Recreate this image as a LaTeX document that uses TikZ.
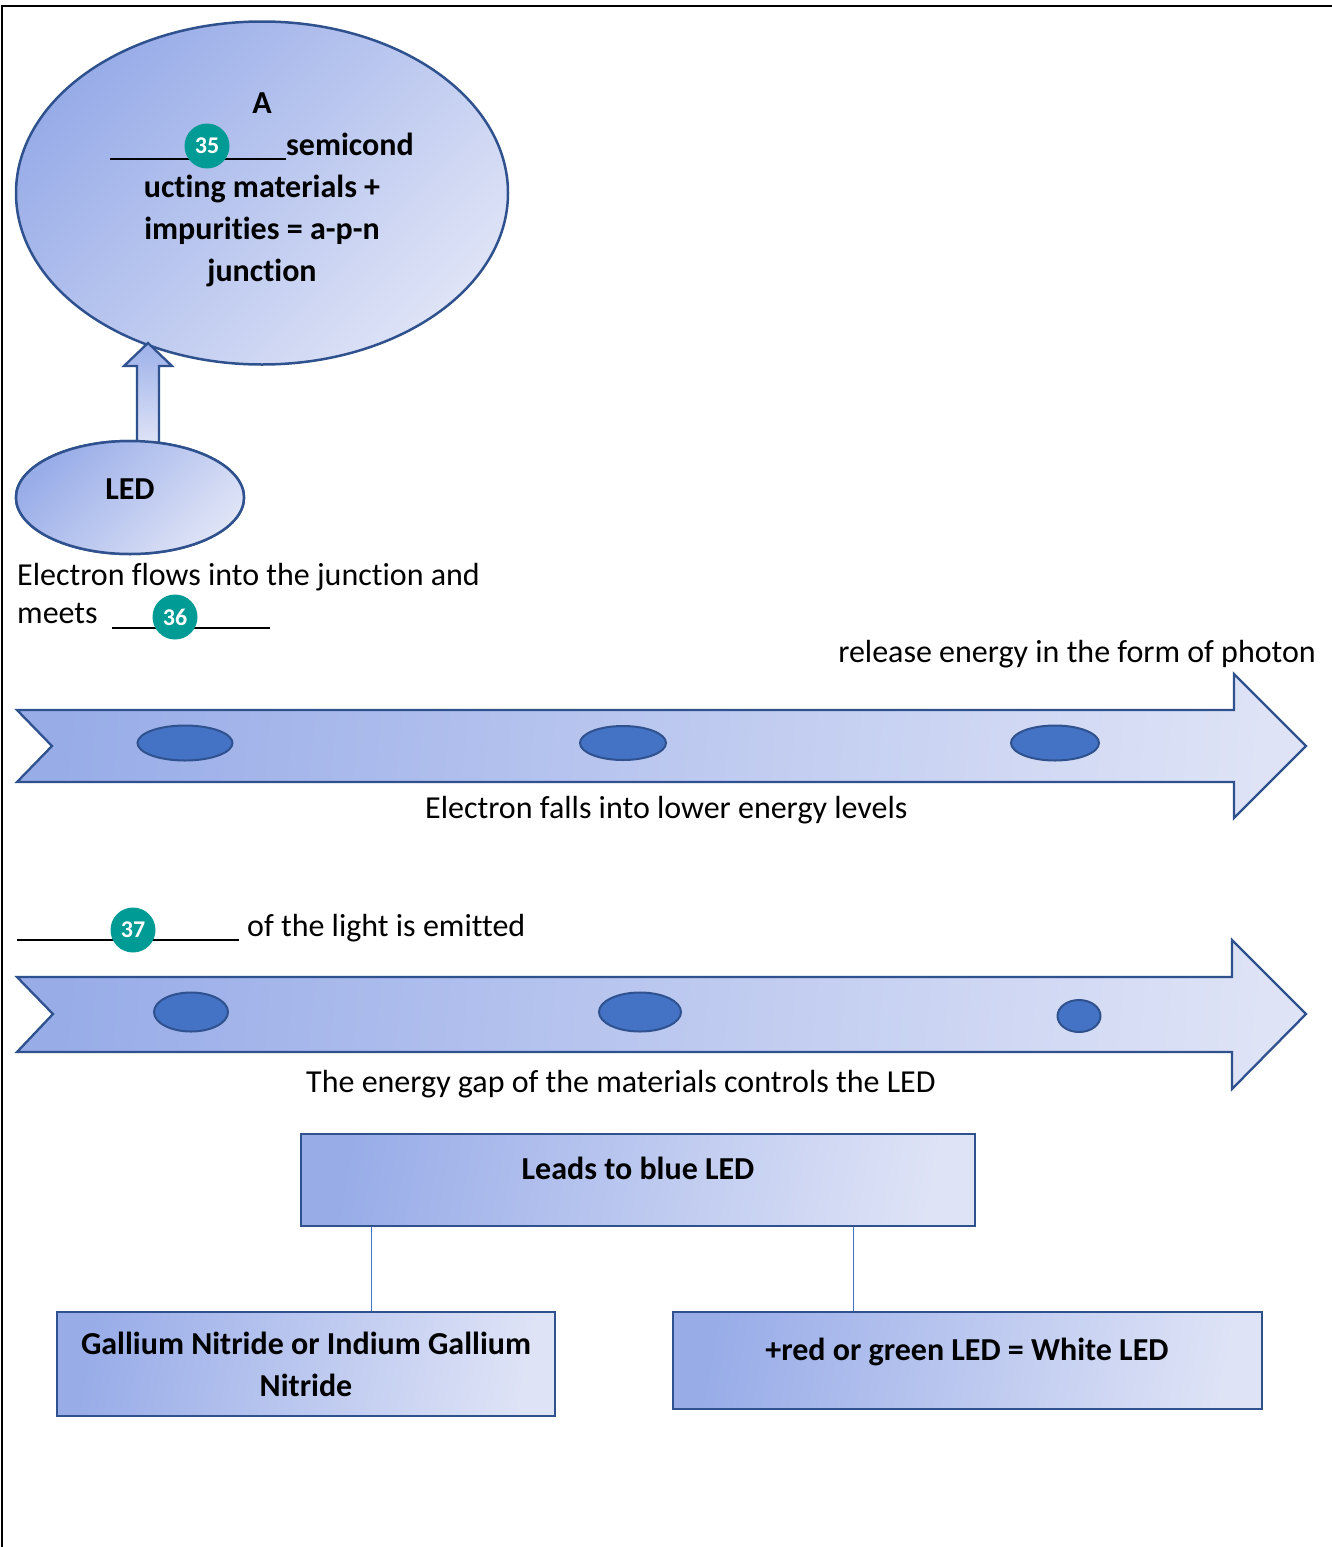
\documentclass[tikz,border=0pt]{standalone}
\usepackage{fontspec}
\setmainfont[Ligatures=NoCommon]{Carlito}
\usetikzlibrary{shapes.geometric,calc}
\definecolor{edge}{RGB}{47,82,143}
\definecolor{gdark}{RGB}{152,172,232}
\definecolor{glight}{RGB}{222,227,246}
\definecolor{dotblue}{RGB}{68,114,196}
\definecolor{badgeteal}{RGB}{0,155,148}
\begin{document}
\begin{tikzpicture}[x=1pt,y=-1pt,
  bubble/.style={ellipse, draw=edge, line width=2.5pt, left color=gdark, right color=glight, shading angle=45, inner sep=0pt},
  badge/.style={circle, fill=badgeteal, text=white, font=\fontsize{24}{24}\selectfont\bfseries, minimum size=45pt, inner sep=0pt},
  dotell/.style={ellipse, draw=edge, fill=dotblue, line width=2pt, inner sep=0pt},
  txt/.style={font=\fontsize{32}{42}\selectfont, inner sep=0pt},
  btxt/.style={font=\fontsize{32}{42}\selectfont\bfseries, inner sep=0pt},
  boxst/.style={rectangle, draw=edge, line width=2.6pt, left color=gdark, right color=glight, shading angle=80, inner sep=0pt},
  band/.style={draw=edge, line width=2.3pt, left color=gdark, right color=glight, shading angle=85},
  link/.style={draw=dotblue, line width=1.2pt},
  blank/.style={draw=black, line width=2pt}
]
\useasboundingbox (0,0) rectangle (1332,1547);
\fill[white] (0,0) rectangle (1332,1547);
% frame
\draw[line width=2pt] (2,1547) -- (2,6) -- (1332,6);

% big ellipse
\node[bubble, minimum width=492pt, minimum height=343pt] (core) at (262,193) {};
\node[btxt, anchor=base] (coreA) at (262,113) {A};
\node[btxt, anchor=base] (coreB) at (262,155) {\rule[-5pt]{176pt}{2.5pt}semicond};
\node[btxt, anchor=base] (coreC) at (262,197) {ucting materials +};
\node[btxt, anchor=base] (coreD) at (262,239) {impurities = a-p-n};
\node[btxt, anchor=base] (coreE) at (262,281) {junction};
\node[badge] (b35) at (207,146) {35};

% LED ellipse and up arrow
\node[bubble, minimum width=228pt, minimum height=113pt] (led) at (130,497.5) {};
\coordinate (upfoot) at ($(led.north)+(18,3)$);
\coordinate (uptip) at (148,343);
\draw[edge, line width=2.3pt, top color=gdark!95!white, bottom color=glight, shading angle=0]
  ($(upfoot)+(-11,0)$) -- ($(uptip)+(-11,23)$) -- ($(uptip)+(-24,23)$) -- (uptip)
  -- ($(uptip)+(24,23)$) -- ($(uptip)+(11,23)$) -- ($(upfoot)+(11,0)$) -- cycle;
\node[bubble, minimum width=228pt, minimum height=113pt] (led2) at (130,497.5) {};
\node[btxt, anchor=base] (ledt) at (130,499) {LED};

% text block 36
\node[txt, anchor=base west] (flow) at (17,585) {Electron flows into the junction and};
\node[txt, anchor=base west] (meets) at (17,623) {meets};
\coordinate (u36a) at (112,628);
\coordinate (u36b) at (270,628);
\draw[blank] (u36a) -- (u36b);
\node[badge] (b36) at (175,617) {36};

\node[txt, anchor=base east] (release) at (1316,662) {release energy in the form of photon};

% arrow 1
\draw[band] (17,710) -- (1234,710) -- (1234,674) -- (1306,746) -- (1234,818) -- (1234,782) -- (17,782) -- (52,746) -- cycle;
\node[dotell, minimum width=95pt, minimum height=35pt] (e11) at (185,743) {};
\node[dotell, minimum width=86pt, minimum height=34pt] (e12) at (623,743) {};
\node[dotell, minimum width=88pt, minimum height=35pt] (e13) at (1055,743) {};
\node[txt, anchor=base west] (falls) at (425,818) {Electron falls into lower energy levels};

% text block 37
\coordinate (u37a) at (17,940);
\coordinate (u37b) at (239,940);
\draw[blank] (u37a) -- (u37b);
\node[badge] (b37) at (133,930) {37};
\node[txt, anchor=base west] (emit) at (247,936) {of the light is emitted};

% arrow 2
\draw[band] (17,977) -- (1232,977) -- (1232,940) -- (1306,1014) -- (1232,1089) -- (1232,1052) -- (17,1052) -- (53,1014) -- cycle;
\node[dotell, minimum width=74pt, minimum height=39pt] (e21) at (191,1012) {};
\node[dotell, minimum width=82pt, minimum height=39pt] (e22) at (640,1012) {};
\node[dotell, minimum width=43pt, minimum height=32pt] (e23) at (1079,1016) {};
\node[txt, anchor=base west] (gap) at (306,1092) {The energy gap of the materials controls the LED};

% boxes
\node[boxst, minimum width=674pt, minimum height=92pt] (blue) at (638,1180) {};
\node[btxt, anchor=base] (bluet) at (638,1179) {Leads to blue LED};
\node[boxst, minimum width=498pt, minimum height=104pt] (gan) at (306,1364) {};
\node[btxt, anchor=base] (gant1) at (306,1354) {Gallium Nitride or Indium Gallium};
\node[btxt, anchor=base] (gant2) at (306,1396) {Nitride};
\node[boxst, minimum width=589pt, minimum height=97pt] (white) at (967.5,1360.5) {};
\node[btxt, anchor=base] (whitet) at (967,1360) {+red or green LED = White LED};

\coordinate (c1) at ($(blue.south west)+(72,0)$);
\coordinate (c2) at ($(blue.south west)+(554,0)$);
\draw[link] (c1) -- (c1 |- gan.north);
\draw[link] (c2) -- (c2 |- white.north);
\end{tikzpicture}
\end{document}
